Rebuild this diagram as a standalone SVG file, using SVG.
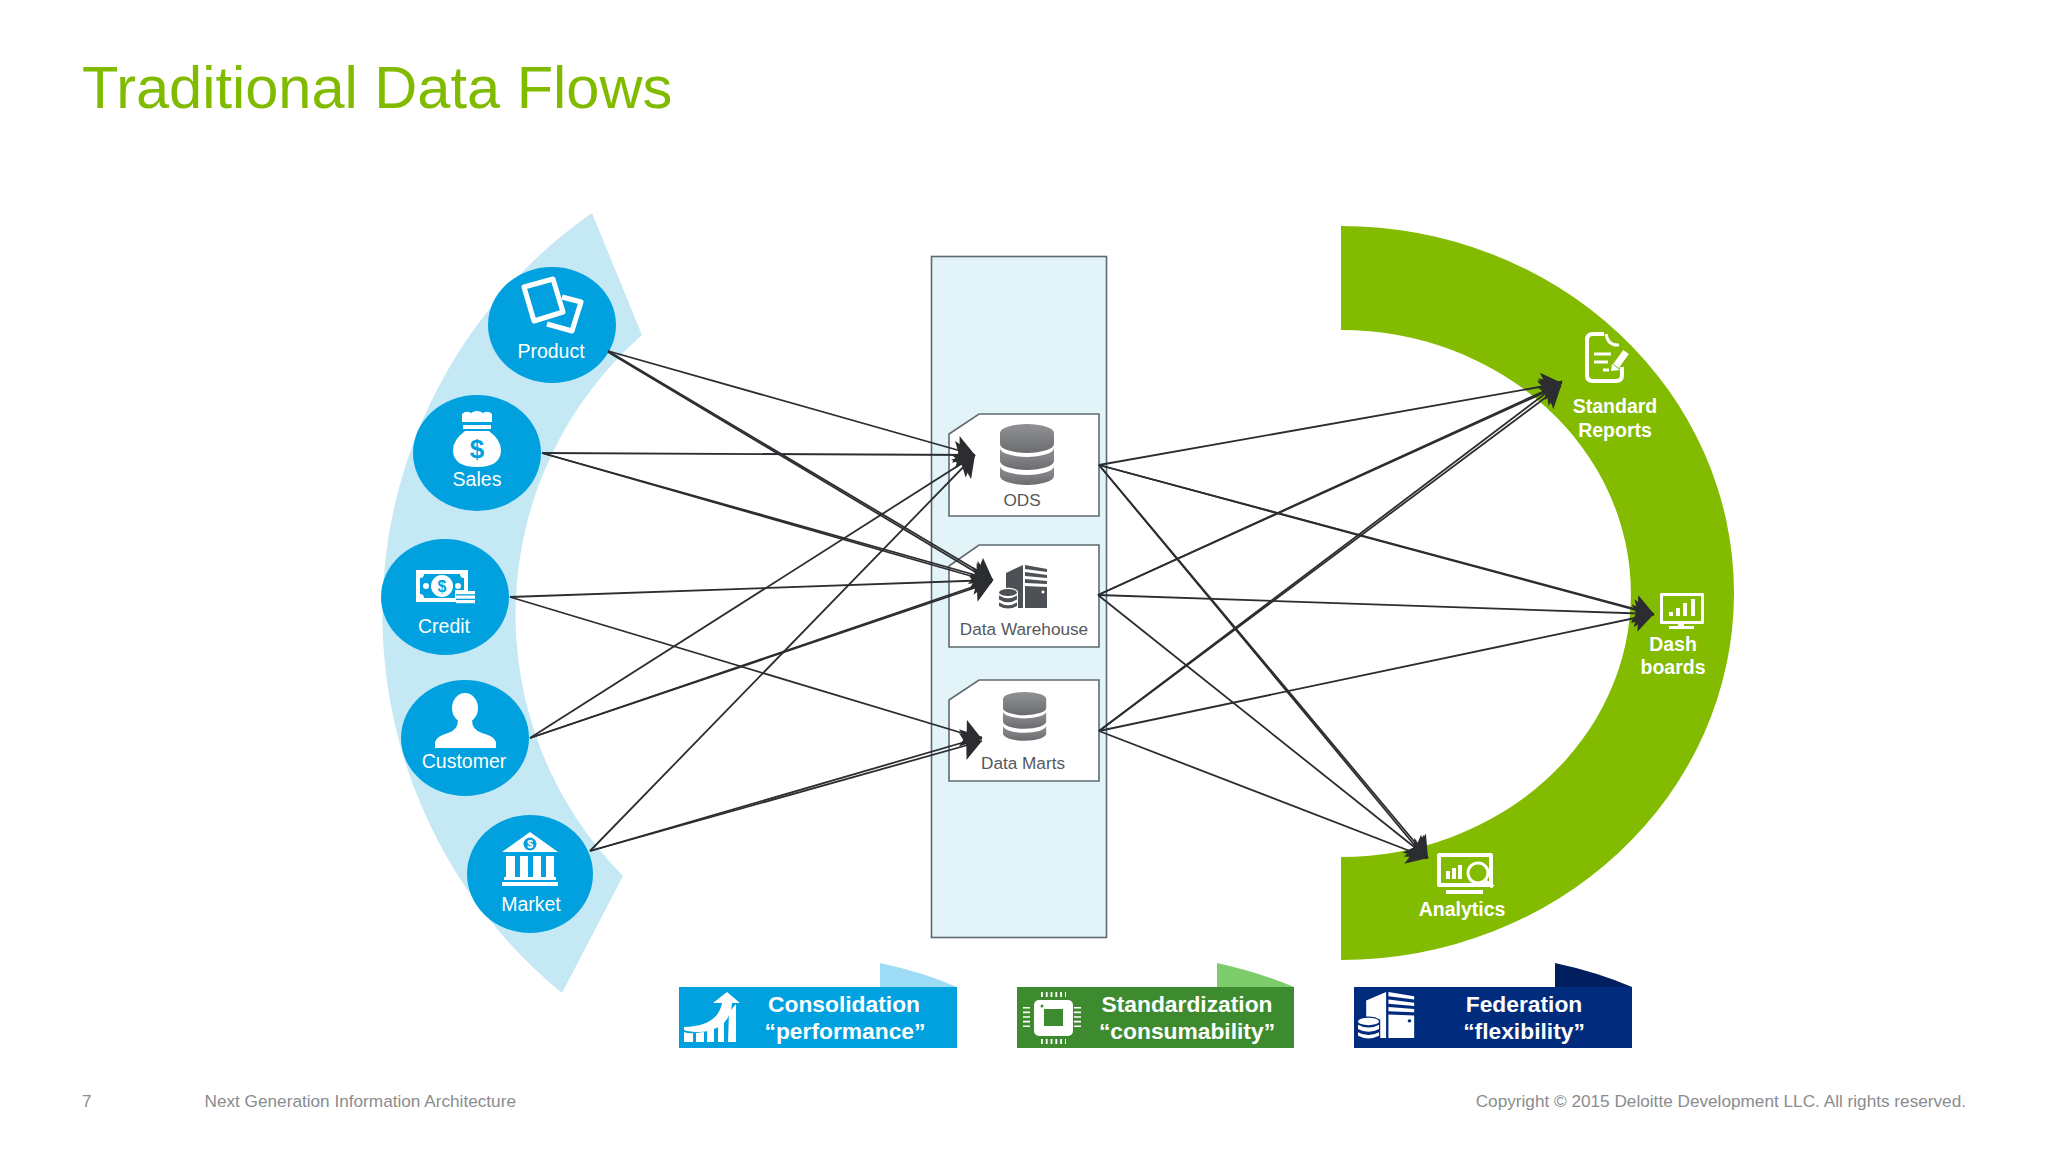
<svg xmlns="http://www.w3.org/2000/svg" width="2048" height="1153" viewBox="0 0 2048 1153">
<style>
text{font-family:"Liberation Sans",Arial,sans-serif}
.l{font-size:19.5px;fill:#fff;text-anchor:middle}
.b{font-size:19.5px;fill:#fff;text-anchor:middle;font-weight:bold}
.g{font-size:17.2px;fill:#55585c;text-anchor:middle}
.t{font-size:22.8px;fill:#fff;text-anchor:middle;font-weight:bold}
.f{font-size:17.2px;fill:#8a8c8e}
.c{fill:#00a1de}
.box{fill:#fff;stroke:#5f6a70;stroke-width:1.6}
.w{fill:#fff}
.ws{fill:none;stroke:#fff;stroke-width:4;stroke-linejoin:round}
.gs{fill:url(#dbfill)}
.dk{fill:#4d5155}
#connectors line{stroke:#2b2d30;stroke-width:1.8;marker-end:url(#arrow)}
</style>
<defs>
<marker id="arrow" markerUnits="userSpaceOnUse" viewBox="0 0 20 28" markerWidth="20" markerHeight="28" refX="20" refY="14" orient="auto"><path d="M0 0L20 14L0 28L4 14Z" fill="#2b2d30"/></marker>
<linearGradient id="dbfill" x1="0" y1="0" x2="0" y2="1"><stop offset="0" stop-color="#909294"/><stop offset="1" stop-color="#6a6c6f"/></linearGradient>
<g id="db"><path d="M0 9A27 9 0 0 1 54 9V20A27 9 0 0 1 0 20Z"/><path d="M0 24A27 9 0 0 0 54 24V37A27 9 0 0 1 0 37Z"/><path d="M0 42A27 9 0 0 0 54 42V52A27 9 0 0 1 0 52Z"/></g>
<g id="server"><path d="M7 8L24 0V43H19V26Q14 22 7 23Z"/><path d="M26 0L48 4V7L26 4Z"/><path d="M26 7L48 10V13L26 11Z"/><path d="M26 14L48 16V19L26 18Z"/><path fill-rule="evenodd" d="M26 21L48 22V43H26ZM44 25.500a1.500 1.500 0 1 0 .01 0Z"/><ellipse cx="9" cy="27.500" rx="9" ry="3.500"/><path d="M0 30.500Q9 36 18 30.500V34.500Q9 40 0 34.500Z"/><path d="M0 37.500Q9 43 18 37.500V41Q9 46 0 41Z"/></g>
</defs>
<rect width="2048" height="1153" fill="#fff"/>
<text x="82" y="108" font-size="59.550" fill="#80bb00">Traditional Data Flows</text>

<path id="source-band" d="M592 213A489 489 0 0 0 562 993L623 876A372 372 0 0 1 642 335Z" fill="#c5e8f5"/>
<path id="consumer-band" d="M1341 226A393 367 0 0 1 1341 960V857A290 263.500 0 0 0 1341 330Z" fill="#82bb00"/>
<rect id="platform-panel" x="931.500" y="256.500" width="175" height="681" fill="#e3f4f8" stroke="#5f6a70" stroke-width="1.6"/>

<g id="node-product"><ellipse class="c" cx="552" cy="325" rx="64" ry="58"/>
<path class="ws" style="stroke-width:5" d="M524 287L553 279L563 312L534 321Z"/><path class="ws" style="stroke-width:5" d="M562 297L581 302L572 331L547 324"/>
<text class="l" x="551" y="358">Product</text></g>

<g id="node-sales"><ellipse class="c" cx="477" cy="453" rx="64" ry="58"/>
<path class="w" d="M462 422V414Q466 410 471 413Q477 409 483 413Q488 410 492 414V422Z"/><rect class="w" x="463" y="425" width="28" height="4"/>
<path class="w" d="M465 431H489Q501 440 501 450Q501 467 477 467Q453 467 453 450Q453 440 465 431Z"/>
<text x="477" y="458" font-size="26" font-weight="bold" fill="#00a1de" text-anchor="middle">$</text>
<text class="l" x="477" y="486">Sales</text></g>

<g id="node-credit"><ellipse class="c" cx="445" cy="597" rx="64" ry="58"/>
<path class="w" fill-rule="evenodd" d="M416 570H468V591H456V602H416ZM424 574Q424 578 420 578V594Q424 594 424 598H455V590H464V578Q460 578 460 574Z"/>
<circle class="w" cx="442" cy="586" r="11"/><circle class="w" cx="426" cy="586" r="3"/><circle class="w" cx="458" cy="586" r="3"/>
<text x="442" y="592" font-size="16" font-weight="bold" fill="#00a1de" text-anchor="middle">$</text>
<rect class="w" x="456" y="591" width="19" height="3.200"/><rect class="w" x="456" y="595.500" width="19" height="3.200"/><rect class="w" x="456" y="600" width="19" height="3.200"/>
<text class="l" x="444" y="633">Credit</text></g>

<g id="node-customer"><ellipse class="c" cx="465" cy="738" rx="64" ry="58"/>
<ellipse class="w" cx="465" cy="708" rx="13" ry="15"/>
<path class="w" d="M435 748V742Q437 736 448 733Q458 730 458 720H472Q472 730 482 733Q494 736 496 742V748Z"/>
<text class="l" x="464" y="768">Customer</text></g>

<g id="node-market"><ellipse class="c" cx="530" cy="874" rx="63" ry="59"/>
<path class="w" d="M502 852L530 832L558 852Z"/><circle class="c" cx="530" cy="844" r="6.500"/>
<text x="530" y="848" font-size="11" font-weight="bold" fill="#fff" text-anchor="middle">$</text>
<rect class="w" x="506" y="856" width="9" height="21"/><rect class="w" x="520" y="856" width="8" height="21"/><rect class="w" x="533" y="856" width="8" height="21"/><rect class="w" x="546" y="856" width="8" height="21"/>
<rect class="w" x="504" y="877" width="52" height="3"/><rect class="w" x="502" y="882" width="56" height="4"/>
<text class="l" x="531" y="911">Market</text></g>

<g id="node-ods"><path class="box" d="M979 414H1099V516H949V434Z"/>
<use href="#db" class="gs" x="1000" y="424"/>
<text class="g" x="1022" y="506">ODS</text></g>

<g id="node-warehouse"><path class="box" d="M979 545H1099V647H949V566Z"/>
<use href="#server" class="dk" x="999" y="565"/>
<text class="g" x="1024" y="635">Data Warehouse</text></g>

<g id="node-marts"><path class="box" d="M979 680H1099V781H949V700Z"/>
<use href="#db" class="gs" transform="translate(1003 692) scale(.8)"/>
<text class="g" x="1023" y="769">Data Marts</text></g>

<g id="node-reports">
<path class="ws" d="M1604 334H1593Q1587 334 1587 340V375Q1587 381 1593 381H1616Q1622 381 1622 375V367"/>
<path class="ws" style="stroke-width:3" d="M1606 334Q1608 346 1619 345"/>
<path class="ws" style="stroke-width:3" d="M1594 354H1611M1594 362H1608M1603 370H1609"/>
<path class="ws" style="stroke-width:7;stroke-linejoin:miter" d="M1626 352L1616 366"/><path class="w" d="M1612 364L1620 370L1611 371Z"/>
<text class="b" x="1615" y="413">Standard</text><text class="b" x="1615" y="437">Reports</text></g>

<g id="node-dashboards">
<rect class="ws" style="stroke-width:3" x="1661.500" y="594.500" width="41" height="28"/>
<rect class="w" x="1669" y="612" width="4" height="4"/><rect class="w" x="1676" y="608" width="4" height="8"/><rect class="w" x="1683" y="603" width="4" height="13"/><rect class="w" x="1691" y="599" width="4" height="17"/>
<rect class="w" x="1678" y="623" width="6" height="4"/><rect class="w" x="1669" y="626" width="25" height="3"/>
<text class="b" x="1673" y="651">Dash</text><text class="b" x="1673" y="674">boards</text></g>

<g id="node-analytics">
<path class="ws" d="M1439 855H1491V885H1439Z"/>
<rect class="w" x="1446" y="871" width="4" height="8"/><rect class="w" x="1452" y="868" width="4" height="11"/><rect class="w" x="1458" y="865" width="4" height="14"/>
<rect class="w" x="1446" y="890" width="37" height="4"/>
<circle cx="1478" cy="873" r="10" fill="#82bb00" stroke="#fff" stroke-width="3"/><path class="ws" d="M1485 881L1493 887"/>
<text class="b" x="1462" y="916">Analytics</text></g>

<g id="banner-consolidation"><rect x="679" y="987" width="278" height="61" fill="#00a1de"/>
<path d="M880 963Q922 972 957 987H880Z" fill="#9edcf5"/>
<path class="w" d="M684 1027Q718 1026 722 1003H713L727 992L740 1003H732Q730 1030 700 1032Q690 1032 684 1030Z"/>
<path class="w" d="M684 1032Q689 1034 693 1033V1042H684ZM696 1033L704 1032V1042H696ZM707 1031L714 1028V1042H707ZM718 1025L724 1018V1042H718ZM729 1012L736 1004V1042H728Z"/>
<text class="t" x="844" y="1012">Consolidation</text><text class="t" x="845" y="1039">“performance”</text></g>

<g id="banner-standardization"><rect x="1017" y="987" width="277" height="61" fill="#3d8b2e"/>
<path d="M1217 963Q1258 972 1294 987H1217Z" fill="#7ccc6c"/>
<rect class="w" x="1034" y="1000" width="39" height="36" rx="5"/><rect x="1044" y="1009" width="19" height="17" fill="#3d8b2e"/><circle cx="1042" cy="1006" r="1.500" fill="#3d8b2e"/>
<path d="M1041 994.500H1066M1041 1041.500H1066" stroke="#fff" stroke-width="5" stroke-dasharray="1.800 3" fill="none"/>
<path d="M1026.500 1007V1030M1077.500 1007V1030" stroke="#fff" stroke-width="7" stroke-dasharray="1.600 3" fill="none"/>
<text class="t" x="1187" y="1012">Standardization</text><text class="t" x="1187" y="1039">“consumability”</text></g>

<g id="banner-federation"><rect x="1354" y="987" width="278" height="61" fill="#012b7d"/>
<path d="M1555 963Q1597 972 1632 987H1555Z" fill="#011e5f"/>
<use href="#server" class="w" transform="translate(1358 992) scale(1.170 1.070)"/>
<text class="t" x="1524" y="1012">Federation</text><text class="t" x="1524" y="1039">“flexibility”</text></g>

<g id="connectors">
<line x1="608" y1="351" x2="975" y2="455"/>
<line x1="608" y1="351" x2="993" y2="580"/>
<line x1="608" y1="352" x2="992" y2="582"/>
<line x1="542" y1="453" x2="975" y2="455"/>
<line x1="542" y1="453" x2="993" y2="580"/>
<line x1="542" y1="453" x2="992" y2="582"/>
<line x1="510" y1="597" x2="993" y2="580"/>
<line x1="510" y1="597" x2="982" y2="739"/>
<line x1="530" y1="738" x2="975" y2="455"/>
<line x1="530" y1="738" x2="993" y2="580"/>
<line x1="530" y1="738" x2="992" y2="582"/>
<line x1="590" y1="851" x2="975" y2="455"/>
<line x1="590" y1="851" x2="982" y2="737"/>
<line x1="590" y1="851" x2="982" y2="741"/>
<line x1="1099" y1="465" x2="1562" y2="383"/>
<line x1="1099" y1="465" x2="1654" y2="614"/>
<line x1="1099" y1="465" x2="1654" y2="615"/>
<line x1="1099" y1="465" x2="1428" y2="858"/>
<line x1="1099" y1="465" x2="1426" y2="859"/>
<line x1="1098" y1="595" x2="1562" y2="383"/>
<line x1="1098" y1="595" x2="1561" y2="385"/>
<line x1="1098" y1="595" x2="1654" y2="614"/>
<line x1="1098" y1="595" x2="1428" y2="858"/>
<line x1="1099" y1="731" x2="1562" y2="381"/>
<line x1="1099" y1="731" x2="1561" y2="386"/>
<line x1="1099" y1="731" x2="1654" y2="614"/>
<line x1="1099" y1="731" x2="1428" y2="858"/>
</g>

<g id="footer">
<text class="f" x="82" y="1107">7</text>
<text class="f" x="204.500" y="1107">Next Generation Information Architecture</text>
<text class="f" x="1966" y="1107" text-anchor="end">Copyright © 2015 Deloitte Development LLC. All rights reserved.</text>
</g>
</svg>
